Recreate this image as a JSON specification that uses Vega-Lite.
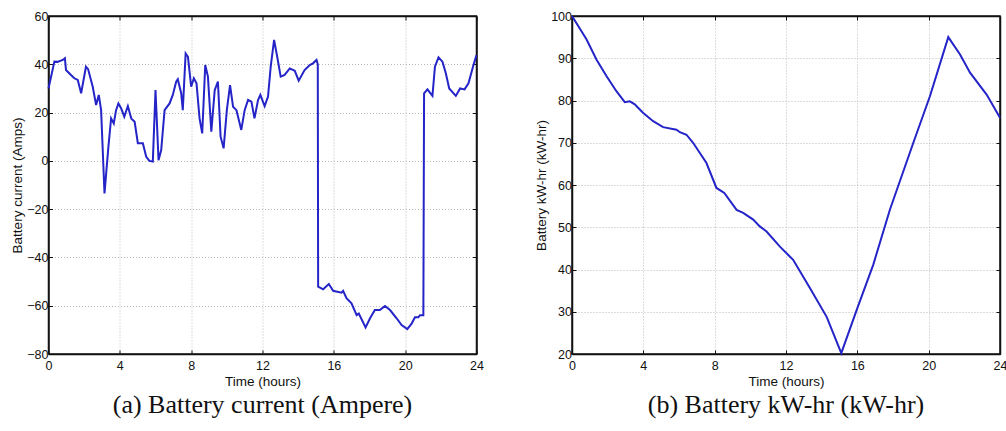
{
  "$schema": "https://vega.github.io/schema/vega-lite/v6.json",
  "background": "white",
  "padding": {"left": 9.5, "top": 9, "right": 5, "bottom": 5},
  "spacing": 48.5,
  "datasets": {
    "current": [
      {"t":0,"a":30},{"t":0.33,"a":41.1},{"t":0.5,"a":41},{"t":0.8,"a":41.8},{"t":0.92,"a":42.5},{"t":0.98,"a":37.6},{"t":1.26,"a":35.6},{"t":1.45,"a":34.2},{"t":1.64,"a":33.5},{"t":1.83,"a":28},{"t":2.1,"a":39},{"t":2.22,"a":38},{"t":2.48,"a":30.7},{"t":2.67,"a":23.1},{"t":2.82,"a":27.3},{"t":2.95,"a":21},{"t":3.14,"a":-13.5},{"t":3.36,"a":5.9},{"t":3.51,"a":17.6},{"t":3.66,"a":15.5},{"t":3.79,"a":21},{"t":3.92,"a":23.8},{"t":4.07,"a":21.8},{"t":4.25,"a":18.3},{"t":4.45,"a":22.7},{"t":4.64,"a":17.6},{"t":4.83,"a":16.2},{"t":5.01,"a":7.3},{"t":5.29,"a":7.3},{"t":5.48,"a":1.7},{"t":5.66,"a":0},{"t":5.85,"a":-0.3},{"t":6.0,"a":29.3},{"t":6.17,"a":0.3},{"t":6.32,"a":4.5},{"t":6.51,"a":21},{"t":6.79,"a":23.8},{"t":6.97,"a":27.3},{"t":7.16,"a":32.8},{"t":7.25,"a":33.8},{"t":7.44,"a":28},{"t":7.53,"a":21},{"t":7.69,"a":44.5},{"t":7.82,"a":43.1},{"t":8.0,"a":30.7},{"t":8.15,"a":34.2},{"t":8.3,"a":32.1},{"t":8.47,"a":17.6},{"t":8.62,"a":11.4},{"t":8.79,"a":39.7},{"t":8.94,"a":34.9},{"t":9.13,"a":12.1},{"t":9.32,"a":29.3},{"t":9.5,"a":32.8},{"t":9.65,"a":10},{"t":9.82,"a":5.2},{"t":10.0,"a":21},{"t":10.18,"a":31.4},{"t":10.35,"a":22.4},{"t":10.54,"a":21},{"t":10.81,"a":12.8},{"t":11.0,"a":21},{"t":11.19,"a":25.2},{"t":11.38,"a":24.5},{"t":11.55,"a":17.6},{"t":11.75,"a":25.2},{"t":11.88,"a":27.3},{"t":12.12,"a":22.7},{"t":12.31,"a":26.6},{"t":12.46,"a":39},{"t":12.65,"a":50.1},{"t":12.84,"a":42.5},{"t":13.02,"a":34.9},{"t":13.24,"a":35.6},{"t":13.53,"a":38.3},{"t":13.81,"a":37.3},{"t":14.03,"a":33.2},{"t":14.36,"a":37.6},{"t":14.65,"a":39.7},{"t":14.83,"a":40.4},{"t":15.03,"a":41.8},{"t":15.1,"a":40},{"t":15.12,"a":-52.1},{"t":15.4,"a":-53.2},{"t":15.72,"a":-51},{"t":15.96,"a":-53.8},{"t":16.43,"a":-54.6},{"t":16.52,"a":-53.8},{"t":16.71,"a":-56.9},{"t":16.99,"a":-59},{"t":17.28,"a":-63.9},{"t":17.4,"a":-63.2},{"t":17.78,"a":-69},{"t":18.03,"a":-65.2},{"t":18.3,"a":-61.8},{"t":18.58,"a":-61.8},{"t":18.87,"a":-60.1},{"t":19.15,"a":-61.8},{"t":19.52,"a":-65.2},{"t":19.8,"a":-68},{"t":20.12,"a":-69.7},{"t":20.37,"a":-67.3},{"t":20.55,"a":-64.8},{"t":20.74,"a":-64.8},{"t":20.83,"a":-63.9},{"t":21.02,"a":-63.9},{"t":21.06,"a":28},{"t":21.25,"a":29.6},{"t":21.53,"a":26.9},{"t":21.67,"a":39},{"t":21.87,"a":42.9},{"t":22.09,"a":41.1},{"t":22.28,"a":36.3},{"t":22.47,"a":30},{"t":22.84,"a":26.9},{"t":23.08,"a":30},{"t":23.33,"a":29.6},{"t":23.55,"a":32.1},{"t":23.83,"a":39.7},{"t":24.0,"a":43.8}
    ],
    "energy": [
      {"t":0,"e":100},{"t":0.81,"e":94.5},{"t":1.37,"e":89.7},{"t":1.93,"e":85.8},{"t":2.49,"e":82.2},{"t":2.96,"e":79.6},{"t":3.24,"e":79.8},{"t":3.52,"e":79.1},{"t":3.98,"e":77.1},{"t":4.55,"e":75.1},{"t":5.11,"e":73.7},{"t":5.86,"e":73.1},{"t":6.05,"e":72.5},{"t":6.42,"e":71.9},{"t":6.79,"e":70},{"t":7.54,"e":65.2},{"t":8.1,"e":59.3},{"t":8.54,"e":58.1},{"t":9.23,"e":54.1},{"t":9.6,"e":53.4},{"t":10.16,"e":51.8},{"t":10.53,"e":50.2},{"t":10.91,"e":49},{"t":11.66,"e":45.4},{"t":12.4,"e":42.3},{"t":13.34,"e":35.6},{"t":14.28,"e":28.8},{"t":15.1,"e":20.2},{"t":15.96,"e":30.4},{"t":16.89,"e":41.1},{"t":17.83,"e":54.2},{"t":19.14,"e":70},{"t":20.07,"e":81},{"t":21.1,"e":95},{"t":21.76,"e":90.9},{"t":22.32,"e":86.6},{"t":23.25,"e":81.4},{"t":24.0,"e":75.9}
    ]
  },
  "config": {
    "font": "Liberation Sans",
    "view": {"stroke": "#111", "strokeWidth": 1.5},
    "axis": {
      "domainColor": "#111", "domainWidth": 1.5,
      "tickColor": "#111", "tickSize": -4, "tickWidth": 1,
      "gridColor": "#aaa", "gridDash": [1, 2], "gridWidth": 0.8,
      "labelFont": "Liberation Sans", "labelFontSize": 12.5, "labelColor": "#111", "labelFontWeight": "normal",
      "titleFont": "Liberation Sans", "titleFontSize": 13.5, "titleColor": "#111", "titleFontWeight": "normal"
    },
    "title": {"font": "Liberation Serif", "fontSize": 26, "fontWeight": "normal", "color": "#111", "orient": "bottom", "offset": 4}
  },
  "hconcat": [
    {
      "data": {"name": "current"},
      "width": 428, "height": 338,
      "title": {"text": "(a) Battery current (Ampere)"},
      "layer": [
        {
          "mark": {"type": "line", "color": "#2424c8", "strokeWidth": 2},
          "encoding": {
            "x": {"field": "t", "type": "quantitative", "scale": {"domain": [0, 24], "nice": false, "zero": false},
                  "axis": {"values": [0, 4, 8, 12, 16, 20, 24], "title": "Time (hours)", "labelPadding": 9, "titlePadding": 3, "labelFlush": false}},
            "y": {"field": "a", "type": "quantitative", "scale": {"domain": [-80, 60], "nice": false, "zero": false},
                  "axis": {"values": [-80, -60, -40, -20, 0, 20, 40, 60], "title": "Battery current (Amps)", "labelPadding": 4.5, "titlePadding": 2}}
          }
        },
        {
          "mark": {"type": "line", "opacity": 0},
          "encoding": {
            "x": {"field": "t", "type": "quantitative", "scale": {"domain": [0, 24], "nice": false, "zero": false},
                  "axis": {"orient": "top", "values": [0, 4, 8, 12, 16, 20, 24], "labels": false, "grid": false, "title": null}},
            "y": {"field": "a", "type": "quantitative", "scale": {"domain": [-80, 60], "nice": false, "zero": false},
                  "axis": {"orient": "right", "values": [-80, -60, -40, -20, 0, 20, 40, 60], "labels": false, "grid": false, "title": null}}
          }
        }
      ],
      "resolve": {"axis": {"x": "independent", "y": "independent"}}
    },
    {
      "data": {"name": "energy"},
      "width": 428, "height": 338,
      "title": {"text": "(b) Battery kW-hr (kW-hr)"},
      "layer": [
        {
          "mark": {"type": "line", "color": "#2424c8", "strokeWidth": 2},
          "encoding": {
            "x": {"field": "t", "type": "quantitative", "scale": {"domain": [0, 24], "nice": false, "zero": false},
                  "axis": {"values": [0, 4, 8, 12, 16, 20, 24], "title": "Time (hours)", "labelPadding": 9, "titlePadding": 3, "labelFlush": false}},
            "y": {"field": "e", "type": "quantitative", "scale": {"domain": [20, 100], "nice": false, "zero": false},
                  "axis": {"values": [20, 30, 40, 50, 60, 70, 80, 90, 100], "title": "Battery kW-hr (kW-hr)", "labelPadding": 4.5, "titlePadding": 2}}
          }
        },
        {
          "mark": {"type": "line", "opacity": 0},
          "encoding": {
            "x": {"field": "t", "type": "quantitative", "scale": {"domain": [0, 24], "nice": false, "zero": false},
                  "axis": {"orient": "top", "values": [0, 4, 8, 12, 16, 20, 24], "labels": false, "grid": false, "title": null}},
            "y": {"field": "e", "type": "quantitative", "scale": {"domain": [20, 100], "nice": false, "zero": false},
                  "axis": {"orient": "right", "values": [20, 30, 40, 50, 60, 70, 80, 90, 100], "labels": false, "grid": false, "title": null}}
          }
        }
      ],
      "resolve": {"axis": {"x": "independent", "y": "independent"}}
    }
  ]
}
